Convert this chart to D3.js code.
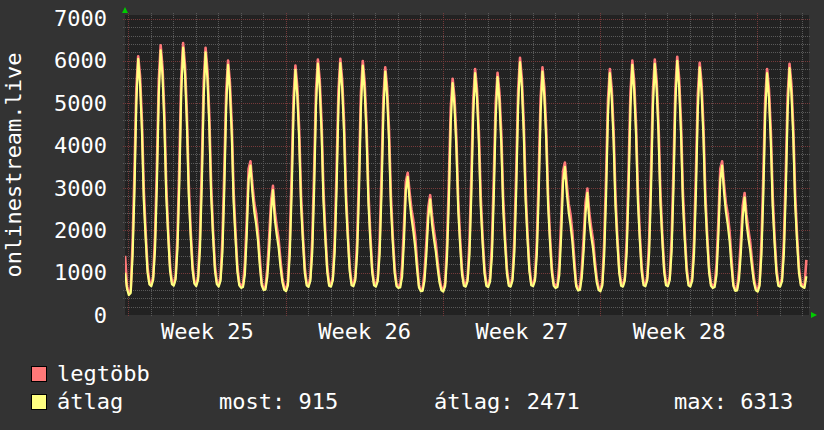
<!DOCTYPE html>
<html><head><meta charset="utf-8">
<script src="https://cdn.jsdelivr.net/npm/d3@7/dist/d3.min.js"></script>
<style>
html,body{margin:0;padding:0;background:#333333;}
svg{display:block;}
text{font-family:"DejaVu Sans Mono",monospace;}
</style></head><body>
<svg id="chart" width="824" height="430"></svg>
<script>
// ---------- data ----------
const yAxisTitle = "onlinestream.live";
const weekNumbers = [25, 26, 27, 28];
const yTickValues = [0, 1000, 2000, 3000, 4000, 5000, 6000, 7000];
const seriesNames = ["legtöbb", "átlag"];
const statNames = ["most", "átlag", "max"];
const statValues = [915, 2471, 6313];
const startHour = -3.5;   // first sample time (hours from start of week 25)
const stepHours = 2;      // sample spacing

// átlag (average) – one row per day, samples at 0:30, 2:30 ... 22:30
const avgValues = [
  1000, 620,
  470, 520, 1400, 2900, 5000, 6050, 5450, 4350, 2700, 1800, 1000, 720,
  680, 830, 1550, 3100, 5200, 6250, 5650, 4500, 2800, 1870, 1050, 730,
  690, 840, 1580, 3150, 5250, 6313, 5700, 4550, 2850, 1900, 1080, 740,
  680, 830, 1550, 3100, 5150, 6200, 5580, 4450, 2800, 1850, 1050, 730,
  670, 810, 1480, 2950, 4900, 5910, 5300, 4250, 2650, 1800, 1020, 700,
  640, 660, 950, 1900, 3200, 3530, 2900, 2450, 2150, 1750, 1150, 700,
  590, 600, 900, 1550, 2450, 2950, 2250, 1900, 1600, 1150, 780, 600,
  560, 700, 1450, 2900, 4800, 5790, 5200, 4150, 2600, 1750, 1000, 700,
  660, 810, 1480, 2950, 4950, 5935, 5350, 4280, 2680, 1780, 1020, 690,
  670, 820, 1490, 2980, 4950, 5950, 5350, 4300, 2680, 1800, 1030, 700,
  680, 820, 1470, 2950, 4900, 5890, 5300, 4250, 2650, 1770, 1010, 700,
  670, 800, 1440, 2870, 4780, 5750, 5170, 4140, 2600, 1730, 1000, 680,
  640, 650, 900, 1750, 2950, 3260, 2700, 2300, 1980, 1600, 1080, 650,
  560, 570, 820, 1450, 2300, 2730, 2150, 1800, 1500, 1100, 760, 580,
  550, 680, 1370, 2740, 4550, 5475, 4930, 3940, 2460, 1650, 960, 690,
  670, 800, 1430, 2850, 4740, 5710, 5140, 4110, 2570, 1710, 990, 690,
  660, 790, 1400, 2810, 4660, 5620, 5060, 4050, 2530, 1690, 980, 690,
  670, 820, 1490, 2990, 4960, 5970, 5370, 4300, 2690, 1790, 1030, 700,
  680, 810, 1440, 2870, 4770, 5750, 5170, 4140, 2590, 1730, 1000, 690,
  640, 660, 950, 1880, 3150, 3500, 2880, 2430, 2120, 1720, 1130, 680,
  580, 590, 880, 1520, 2400, 2885, 2220, 1870, 1580, 1130, 770, 590,
  560, 700, 1430, 2850, 4740, 5710, 5140, 4110, 2570, 1710, 990, 690,
  670, 810, 1480, 2950, 4900, 5910, 5320, 4250, 2660, 1770, 1020, 700,
  680, 820, 1480, 2960, 4920, 5930, 5340, 4270, 2670, 1780, 1020, 700,
  680, 820, 1500, 3000, 4980, 6000, 5400, 4320, 2700, 1800, 1030, 700,
  670, 810, 1460, 2920, 4860, 5850, 5270, 4210, 2630, 1760, 1010, 690,
  640, 660, 950, 1900, 3200, 3530, 2900, 2440, 2130, 1740, 1140, 680,
  570, 580, 840, 1470, 2330, 2780, 2170, 1820, 1520, 1110, 760, 580,
  550, 690, 1430, 2850, 4740, 5710, 5140, 4110, 2570, 1710, 990, 690,
  670, 800, 1460, 2910, 4840, 5830, 5250, 4200, 2620, 1750, 1010, 700,
  660, 640, 915
];

// legtöbb (maximum)
const maxValues = [
  1400, 680,
  520, 580, 1700, 3350, 5350, 6110, 5650, 4600, 2950, 1950, 1120, 780,
  720, 910, 1850, 3550, 5550, 6370, 5850, 4750, 3050, 2020, 1170, 790,
  730, 920, 1880, 3600, 5600, 6420, 5900, 4800, 3100, 2050, 1200, 800,
  720, 910, 1850, 3550, 5500, 6310, 5780, 4700, 3050, 2000, 1170, 790,
  710, 890, 1780, 3400, 5250, 6010, 5500, 4500, 2900, 1950, 1140, 760,
  680, 720, 1200, 2250, 3450, 3630, 3100, 2650, 2400, 1950, 1330, 760,
  630, 660, 1100, 1850, 2700, 3050, 2450, 2100, 1800, 1300, 880, 660,
  600, 780, 1750, 3350, 5150, 5890, 5400, 4400, 2850, 1900, 1120, 760,
  700, 890, 1780, 3400, 5300, 6030, 5550, 4530, 2930, 1930, 1140, 750,
  710, 900, 1790, 3430, 5300, 6050, 5550, 4550, 2930, 1950, 1150, 760,
  720, 900, 1770, 3400, 5250, 6000, 5500, 4500, 2900, 1920, 1130, 760,
  710, 880, 1740, 3320, 5130, 5850, 5370, 4390, 2850, 1880, 1120, 740,
  680, 710, 1150, 2100, 3150, 3360, 2900, 2500, 2230, 1850, 1250, 700,
  600, 630, 1020, 1750, 2550, 2830, 2350, 2000, 1700, 1250, 860, 640,
  590, 760, 1670, 3190, 4900, 5580, 5130, 4190, 2710, 1800, 1080, 750,
  710, 880, 1730, 3300, 5090, 5810, 5340, 4360, 2820, 1860, 1110, 750,
  700, 870, 1700, 3260, 5010, 5720, 5260, 4300, 2780, 1840, 1100, 750,
  710, 900, 1790, 3440, 5310, 6075, 5570, 4550, 2940, 1940, 1150, 760,
  720, 890, 1740, 3320, 5120, 5850, 5370, 4390, 2840, 1880, 1120, 750,
  680, 720, 1200, 2250, 3400, 3600, 3080, 2630, 2370, 1940, 1310, 730,
  620, 650, 1080, 1820, 2650, 2985, 2420, 2070, 1780, 1280, 870, 650,
  600, 780, 1730, 3300, 5090, 5810, 5340, 4360, 2820, 1860, 1110, 750,
  710, 890, 1780, 3400, 5250, 6010, 5520, 4500, 2910, 1920, 1140, 760,
  720, 900, 1780, 3410, 5270, 6030, 5540, 4520, 2920, 1930, 1140, 760,
  720, 900, 1800, 3450, 5330, 6100, 5600, 4570, 2950, 1950, 1150, 760,
  710, 890, 1760, 3370, 5210, 5955, 5470, 4460, 2880, 1910, 1130, 750,
  680, 720, 1200, 2250, 3450, 3630, 3100, 2640, 2380, 1960, 1330, 730,
  610, 640, 1040, 1770, 2580, 2880, 2370, 2020, 1720, 1260, 860, 640,
  590, 770, 1730, 3300, 5090, 5810, 5340, 4360, 2820, 1860, 1110, 750,
  710, 880, 1760, 3360, 5190, 5930, 5450, 4450, 2870, 1900, 1130, 760,
  700, 690, 1300
];

// ---------- layout ----------
const W = 824, H = 430;
const pL = 125, pR = 809, pT = 15, pB = 315;
const colors = { bg: "#333333", canvas: "#222222", minor: "#595959", major: "#763a3a",
                 max: "#ff7878", avg: "#ffff80", text: "#ffffff", arrow: "#00cc00" };

const svg = d3.select("#chart");
svg.append("rect").attr("width", W).attr("height", H).attr("fill", colors.bg);
svg.append("rect").attr("x", pL).attr("y", pT).attr("width", pR - pL).attr("height", pB - pT)
   .attr("fill", colors.canvas);

const x = d3.scaleLinear().domain([-3.6, 727.3]).range([pL, pR]);
const y = d3.scaleLinear().domain([0, 7085]).range([pB, pT]);

const px = v => Math.round(v) + 0.5;

// grid
const g = svg.append("g").attr("shape-rendering", "crispEdges");
const minorY = d3.range(200, 7001, 200).filter(v => v % 1000 !== 0);
const majorY = yTickValues.filter(v => v > 0);
g.selectAll(".hmin").data(minorY).join("line")
  .attr("x1", pL - 2).attr("x2", pR + 2)
  .attr("y1", d => px(y(d))).attr("y2", d => px(y(d)))
  .attr("stroke", colors.minor).attr("stroke-dasharray", "1,1");
const days = d3.range(0, 31);
const minorX = days.filter(d => d % 7 !== 0);
const majorX = days.filter(d => d % 7 === 0);
g.selectAll(".vmin").data(minorX).join("line")
  .attr("y1", pT - 2).attr("y2", pB + 2)
  .attr("x1", d => px(x(d * 24))).attr("x2", d => px(x(d * 24)))
  .attr("stroke", colors.minor).attr("stroke-dasharray", "1,1");
g.selectAll(".hmaj").data(majorY).join("line")
  .attr("x1", pL - 2).attr("x2", pR + 2)
  .attr("y1", d => px(y(d))).attr("y2", d => px(y(d)))
  .attr("stroke", colors.major).attr("stroke-dasharray", "1,1");
g.selectAll(".vmaj").data(majorX).join("line")
  .attr("y1", pT - 2).attr("y2", pB + 2)
  .attr("x1", d => px(x(d * 24))).attr("x2", d => px(x(d * 24)))
  .attr("stroke", colors.major).attr("stroke-dasharray", "1,1");

// lines
svg.append("clipPath").attr("id", "clip").append("rect")
  .attr("x", pL).attr("y", pT - 3).attr("width", pR - pL).attr("height", pB - pT + 3);
const line = d3.line().x((d, i) => x(startHour + i * stepHours)).y(d => y(d));
const lg = svg.append("g").attr("clip-path", "url(#clip)");
lg.append("path").datum(maxValues).attr("d", line).attr("fill", "none")
  .attr("stroke", colors.max).attr("stroke-width", 2.6).attr("stroke-linejoin", "round");
lg.append("path").datum(avgValues).attr("d", line).attr("fill", "none")
  .attr("stroke", colors.avg).attr("stroke-width", 2.2).attr("stroke-linejoin", "round");

// axes
const yAxis = d3.axisLeft(y).tickValues(yTickValues).tickSize(0).tickPadding(18).tickFormat(d3.format("d"));
const ya = svg.append("g").attr("transform", `translate(${pL},0)`).call(yAxis);
ya.select(".domain").remove();
ya.selectAll("text").attr("fill", colors.text).attr("font-size", "22px")
  .attr("font-family", '"DejaVu Sans Mono", monospace');

const weekCenters = weekNumbers.map(w => ((w - weekNumbers[0]) * 7 + 3.5) * 24);
const xAxis = d3.axisBottom(x).tickValues(weekCenters).tickSize(0).tickPadding(8)
  .tickFormat((d, i) => "Week " + weekNumbers[i]);
const xa = svg.append("g").attr("transform", `translate(0,${pB})`).call(xAxis);
xa.select(".domain").remove();
xa.selectAll("text").attr("fill", colors.text).attr("font-size", "22px")
  .attr("font-family", '"DejaVu Sans Mono", monospace');

// arrows
svg.append("path").attr("d", `M${pL - 3},13 L${pL + 3},13 L${pL},7 Z`).attr("fill", colors.arrow);
svg.append("path").attr("d", `M${pR + 2},${pB - 3} L${pR + 2},${pB + 3} L${pR + 8},${pB} Z`).attr("fill", colors.arrow);

// y title
svg.append("text").attr("transform", `translate(21,${(pT + pB) / 2}) rotate(-90)`)
  .attr("text-anchor", "middle").attr("fill", colors.text).attr("font-size", "22px")
  .text(yAxisTitle);

// legend
const legendColors = [colors.max, colors.avg];
const lgd = svg.append("g");
seriesNames.forEach((name, i) => {
  const by = 381 + i * 28;
  lgd.append("rect").attr("x", 31.5).attr("y", by - 14.5).attr("width", 15).attr("height", 15)
    .attr("fill", legendColors[i]).attr("stroke", "#000").attr("stroke-width", 1);
  lgd.append("text").attr("x", 57).attr("y", by).attr("fill", colors.text).attr("font-size", "22px").text(name);
});
const statX = [219, 434, 674];
statNames.forEach((n, i) => {
  lgd.append("text").attr("x", statX[i]).attr("y", 409).attr("fill", colors.text).attr("font-size", "22px")
    .text(n + ": " + statValues[i]);
});
</script>
</body></html>
